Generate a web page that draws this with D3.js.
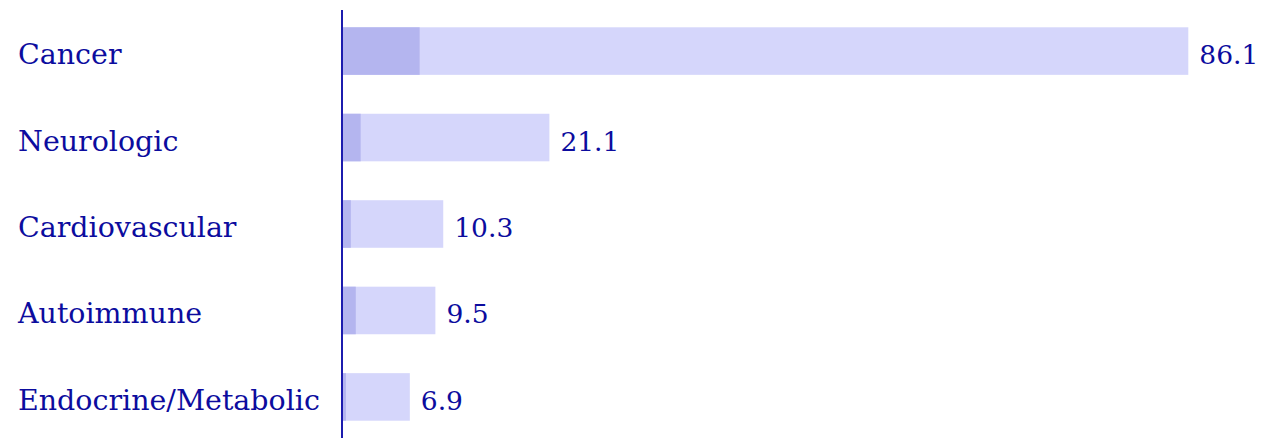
<!DOCTYPE html>
<html><head><meta charset="utf-8">
<script src="https://cdn.jsdelivr.net/npm/d3@7"></script>
<style>body{margin:0;background:#fff}svg{display:block}</style>
</head><body>
<script>
const categories = ["Cancer","Neurologic","Cardiovascular","Autoimmune","Endocrine/Metabolic"];
const totalValues = [86.1, 21.1, 10.3, 9.5, 6.9];
const innerValues = [7.9, 1.9, 0.9, 1.4, 0.4];
const valueLabels = ["86.1","21.1","10.3","9.5","6.9"];

const W = 1261, H = 438;
const svg = d3.select("body").append("svg").attr("width", W).attr("height", H);
const x = d3.scaleLinear().domain([0, 86.1]).range([342, 1188.3]);
const y = d3.scaleBand().domain(categories).range([10, 438]).paddingInner(0.45).paddingOuter(0.2);
const font = "'DejaVu Serif', Georgia, serif";
const textColor = "#0c0c9e";

svg.selectAll("rect.total").data(categories).join("rect").attr("class","total")
  .attr("x", x(0)).attr("y", d => y(d)).attr("height", y.bandwidth())
  .attr("width", (d,i) => x(totalValues[i]) - x(0)).attr("fill", "#d5d6fb");
svg.selectAll("rect.inner").data(categories).join("rect").attr("class","inner")
  .attr("x", x(0)).attr("y", d => y(d)).attr("height", y.bandwidth())
  .attr("width", (d,i) => x(innerValues[i]) - x(0)).attr("fill", "#b4b5ef");

const labels = svg.selectAll("text.cat").data(categories).join("text").attr("class","cat")
  .attr("x", 18).attr("y", d => y(d) + y.bandwidth()/2 + 13)
  .attr("font-family", font).attr("font-size", 28).attr("fill", textColor).text(d => d);
const longest = labels.filter(d => d === "Endocrine/Metabolic").node();
const fs = 28 * 302 / longest.getComputedTextLength();
labels.attr("font-size", fs);

const vals = svg.selectAll("text.val").data(categories).join("text").attr("class","val")
  .attr("x", (d,i) => x(totalValues[i]) + 11).attr("y", d => y(d) + y.bandwidth()/2 + 13)
  .attr("font-family", font).attr("font-size", fs).attr("fill", textColor).text((d,i) => valueLabels[i]);
const firstVal = vals.filter(d => d === "Cancer").node();
const vfs = fs * 59 / firstVal.getComputedTextLength();
vals.attr("font-size", vfs);

svg.append("g").attr("transform", `translate(${x(0)},0)`)
  .call(d3.axisLeft(y).tickSize(0).tickFormat(""))
  .call(g => g.select(".domain").attr("stroke", "#1c1cae").attr("stroke-width", 2).attr("d", "M0,10V438"));
</script>
</body></html>
